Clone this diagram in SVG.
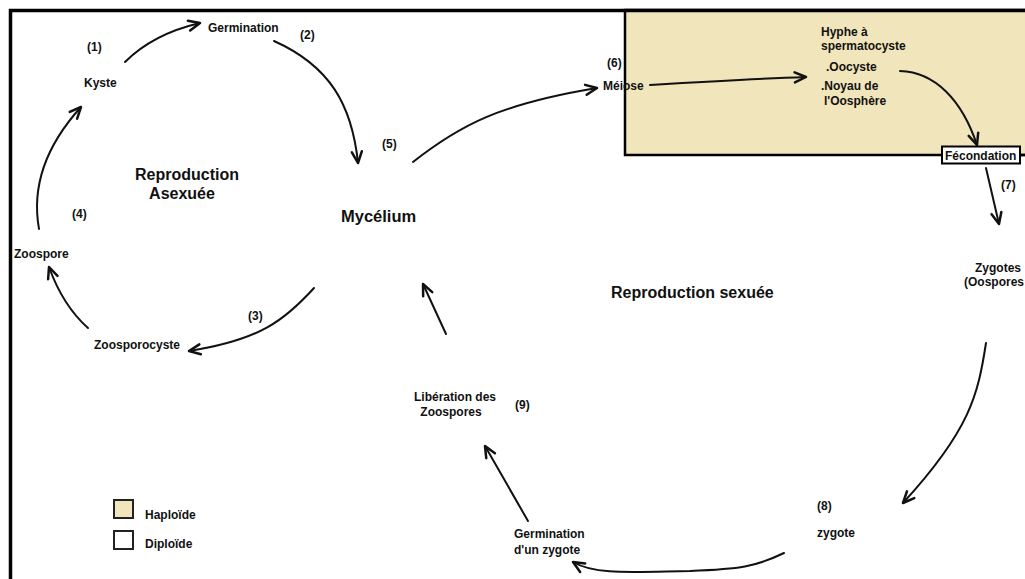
<svg xmlns="http://www.w3.org/2000/svg" width="1025" height="579" viewBox="0 0 1025 579">
  <style>
    .lbl { font-family: "Liberation Sans", Arial, sans-serif; font-weight: bold; font-size: 12px; fill: #111; }
    .big { font-family: "Liberation Sans", Arial, sans-serif; font-weight: bold; font-size: 16px; fill: #111; }
    .arrow { fill: none; stroke: #111; stroke-width: 2; stroke-linecap: round; marker-end: url(#head); }
    .frame { fill: none; stroke: #000; stroke-width: 3.5; }
  </style>
  <defs>
    <marker id="head" markerUnits="userSpaceOnUse" markerWidth="20" markerHeight="20" viewBox="-12 -8 16 16" refX="0" refY="0" orient="auto">
      <path d="M-9,-4 L0,0 L-9,4" fill="none" stroke="#111" stroke-width="2" stroke-linecap="round" stroke-linejoin="round"/>
    </marker>
  </defs>

  <rect width="1025" height="579" fill="#ffffff"/>

  <!-- haploid zone -->
  <g id="haploid-zone">
    <rect x="625" y="10" width="410" height="145" fill="#F1E5BC" stroke="#000" stroke-width="2.5"/>
  </g>

  <!-- outer frame -->
  <path class="frame" d="M10.5,579 L10.5,10.5 L1025,10.5"/>

  <!-- connectors -->
  <g id="connectors">
    <path class="arrow" d="M125,62 C145,42 170,30 200,23"/>
    <path class="arrow" d="M274,41 C330,66 352,105 358,163"/>
    <path class="arrow" d="M413,162 C460,125 500,104 597,88"/>
    <path class="arrow" d="M650,85 C700,82 750,79 806,77"/>
    <path class="arrow" d="M900,71 C935,72 962,100 977,145"/>
    <path class="arrow" d="M986,168 L999,224"/>
    <path class="arrow" d="M986,343 C978,395 970,430 903,503"/>
    <path class="arrow" d="M784,553 C755,567 740,569 690,571 C630,572 595,575 573,562"/>
    <path class="arrow" d="M528,521 L485,446"/>
    <path class="arrow" d="M446,334 L423,284"/>
    <path class="arrow" d="M314,288 C285,320 260,340 189,351"/>
    <path class="arrow" d="M88,328 C70,312 58,292 49,267"/>
    <path class="arrow" d="M39,229 C32,190 42,150 81,107"/>
  </g>

  <!-- asexual cycle -->
  <g id="germination"><text class="lbl" x="208" y="32">Germination</text></g>
  <g id="step1"><text class="lbl" x="87" y="51">(1)</text></g>
  <g id="step2"><text class="lbl" x="300" y="39">(2)</text></g>
  <g id="kyste"><text class="lbl" x="84" y="87">Kyste</text></g>
  <g id="asexual-title">
    <text class="big" x="187" y="180" text-anchor="middle">Reproduction</text>
    <text class="big" x="182" y="199" text-anchor="middle">Asexuée</text>
  </g>
  <g id="step4"><text class="lbl" x="72" y="218">(4)</text></g>
  <g id="zoospore"><text class="lbl" x="14" y="258">Zoospore</text></g>
  <g id="step3"><text class="lbl" x="248" y="320">(3)</text></g>
  <g id="zoosporocyste"><text class="lbl" x="94" y="349">Zoosporocyste</text></g>

  <!-- centre -->
  <g id="step5"><text class="lbl" x="382" y="148">(5)</text></g>
  <g id="mycelium"><text class="big" x="341" y="222" style="font-size:16.5px">Mycélium</text></g>

  <!-- sexual cycle -->
  <g id="step6"><text class="lbl" x="607" y="67">(6)</text></g>
  <g id="meiose"><text class="lbl" x="603" y="90">Méiose</text></g>
  <g id="gametes">
    <text class="lbl" x="821" y="36">Hyphe à</text>
    <text class="lbl" x="821" y="50">spermatocyste</text>
    <text class="lbl" x="826" y="71">.Oocyste</text>
    <text class="lbl" x="821" y="90">.Noyau de</text>
    <text class="lbl" x="824" y="105">l'Oosphère</text>
  </g>
  <g id="fecondation">
    <line x1="1020" y1="155" x2="1025" y2="155" stroke="#000" stroke-width="2.5"/>
    <rect x="942" y="146.5" width="78" height="17" fill="#ffffff" stroke="#000" stroke-width="2"/>
    <text class="lbl" x="945" y="160">Fécondation</text>
  </g>
  <g id="step7"><text class="lbl" x="1001" y="189">(7)</text></g>
  <g id="zygotes">
    <text class="lbl" x="975" y="272">Zygotes</text>
    <text class="lbl" x="964" y="286">(Oospores</text>
  </g>
  <g id="sexual-title"><text class="big" x="611" y="298">Reproduction sexuée</text></g>
  <g id="step8"><text class="lbl" x="817" y="510">(8)</text></g>
  <g id="zygote"><text class="lbl" x="817" y="537">zygote</text></g>
  <g id="germination-zygote">
    <text class="lbl" x="514" y="538">Germination</text>
    <text class="lbl" x="514" y="554">d'un zygote</text>
  </g>
  <g id="liberation">
    <text class="lbl" x="455" y="401" text-anchor="middle">Libération des</text>
    <text class="lbl" x="451" y="416" text-anchor="middle">Zoospores</text>
  </g>
  <g id="step9"><text class="lbl" x="515" y="409">(9)</text></g>

  <!-- legend -->
  <g id="legend">
    <rect x="114" y="500" width="19" height="18" fill="#F1E5BC" stroke="#222" stroke-width="2"/>
    <text class="lbl" x="145" y="519">Haploïde</text>
    <rect x="114" y="531" width="19" height="18" fill="#ffffff" stroke="#222" stroke-width="2"/>
    <text class="lbl" x="145" y="548">Diploïde</text>
  </g>
</svg>
